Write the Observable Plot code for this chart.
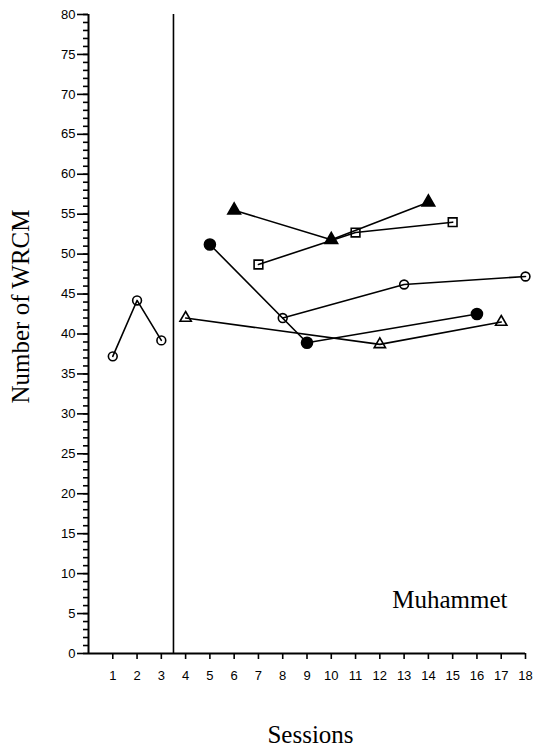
<!DOCTYPE html>
<html><head><meta charset="utf-8">
<script src="https://cdn.jsdelivr.net/npm/d3@7"></script>
<script src="https://cdn.jsdelivr.net/npm/@observablehq/plot@0.6"></script>
<style>
body{margin:0;background:#fff}
#chart{position:relative;width:534px;height:751px}
#chart svg{position:absolute;left:0;top:0}
</style>
</head><body><div id="chart"></div>
<script>
const sessionTicks = d3.range(1, 19);
const yMajorTicks = d3.range(0, 81, 5);
const yMinorTicks = d3.range(0, 81, 1);
const phaseChange = [3.5];
const seriesNames = ["baseline", "openTriangle", "filledCircle", "filledTriangle", "openSquare", "openCircle"];
const seriesSessions = [[1, 2, 3], [4, 12, 17], [5, 9, 16], [6, 10, 14], [7, 11, 15], [8, 13, 18]];
const seriesValues = [[37.2, 44.2, 39.2], [42, 38.7, 41.5], [51.2, 38.9, 42.5], [55.5, 51.8, 56.5], [48.7, 52.7, 54], [42, 46.2, 47.2]];
const seriesSymbols = ["circle", "triangle", "circle", "triangle", "square", "circle"];
const seriesFilled = [false, false, true, true, false, false];
const xTitle = "Sessions";
const yTitle = "Number of WRCM";
const participant = "Muhammet";

const rows = seriesNames.flatMap((name, i) =>
  seriesSessions[i].map((s, j) => ({series: name, session: s, value: seriesValues[i][j]})));

function markerR(i) {
  const sym = seriesSymbols[i], filled = seriesFilled[i];
  if (sym === "circle") return filled ? 5.5 : 4.4;
  if (sym === "triangle") return filled ? 4.7 : 4.2;
  return 4.9;
}

const dotMarks = seriesNames.map((name, i) =>
  Plot.dot(rows.filter(d => d.series === name), {
    x: "session", y: "value",
    symbol: seriesSymbols[i],
    r: markerR(i),
    fill: seriesFilled[i] ? "black" : "none",
    stroke: "black",
    strokeWidth: 1.6
  }));

const frame = {
  width: 534, height: 751, marginLeft: 88, marginRight: 9, marginTop: 14, marginBottom: 98,
  x: {domain: [0, 18]}, y: {domain: [0, 80]}
};

const chart = Plot.plot({
  ...frame,
  style: {background: "white", fontFamily: "'Liberation Sans', Arial, sans-serif", color: "black"},
  marks: [
    Plot.ruleX(phaseChange, {stroke: "black", strokeWidth: 1.6}),
    Plot.axisY({ticks: yMinorTicks, tickSize: 5, text: null, label: null, strokeWidth: 1.6}),
    Plot.axisY({ticks: yMajorTicks, tickSize: 11, tickPadding: 2, fontSize: 13, label: null, strokeWidth: 1.6}),
    Plot.axisX({ticks: sessionTicks, tickSize: 6, tickPadding: 11, fontSize: 13, label: null, strokeWidth: 1.6}),
    Plot.ruleX([0], {stroke: "black", strokeWidth: 2}),
    Plot.ruleY([0], {stroke: "black", strokeWidth: 2}),
    Plot.line(rows, {x: "session", y: "value", z: "series", stroke: "black", strokeWidth: 1.6}),
    ...dotMarks
  ]
});

const serif = "'Liberation Serif', 'Times New Roman', serif";
const titles = Plot.plot({
  ...frame,
  axis: null,
  style: {background: "transparent", color: "black"},
  marks: [
    Plot.text([xTitle], {text: d => d, frameAnchor: "bottom", textAnchor: "middle", dx: 3.5, dy: 81, lineAnchor: "middle",
      fontSize: 25, fontFamily: serif}),
    Plot.text([yTitle], {text: d => d, frameAnchor: "left", textAnchor: "middle", rotate: -90, dx: -68, dy: -27.5, lineAnchor: "middle",
      fontSize: 25, fontFamily: serif}),
    Plot.text([participant], {text: d => d, frameAnchor: "bottom-right", textAnchor: "end", dx: -18, dy: -54, lineAnchor: "middle",
      fontSize: 25, fontFamily: serif})
  ]
});
titles.style.pointerEvents = "none";
document.getElementById("chart").append(chart, titles);
</script>
</body></html>
